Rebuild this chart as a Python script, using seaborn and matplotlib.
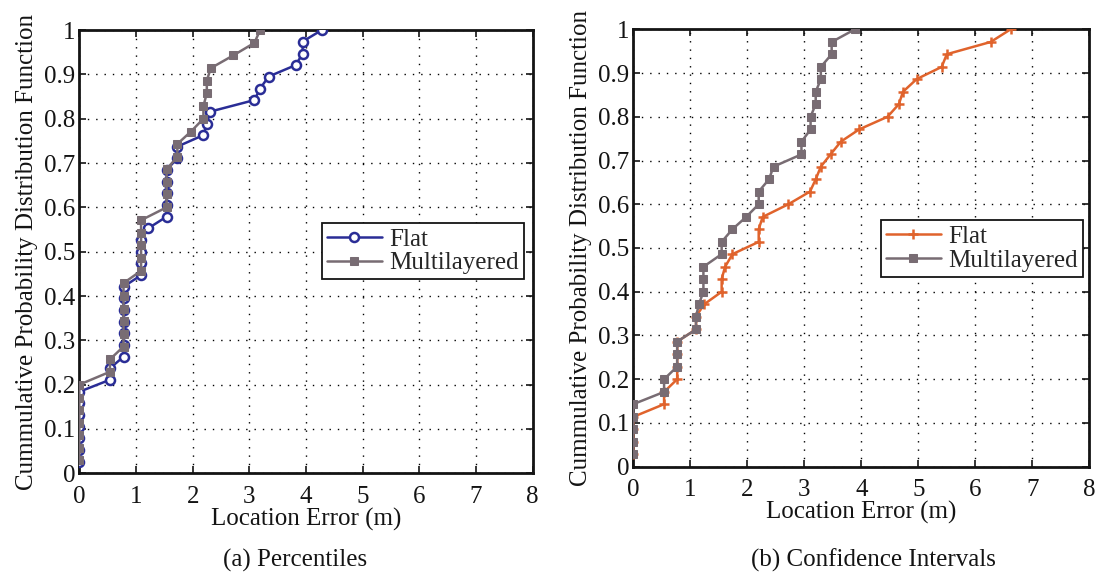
import matplotlib
matplotlib.use("Agg")
import matplotlib.pyplot as plt
import seaborn as sns
import pandas as pd

# ---------------- data ----------------
# (a) Percentiles
pct_flat_x = [0, 0, 0, 0, 0, 0, 0, 0.54, 0.54, 0.78, 0.78, 0.78, 0.78, 0.78, 0.78, 0.78,
              1.09, 1.09, 1.09, 1.09, 1.22, 1.54, 1.54, 1.54, 1.54, 1.54, 1.73, 1.73,
              2.19, 2.25, 2.31, 3.09, 3.19, 3.34, 3.82, 3.94, 3.94, 4.28]
pct_flat_y = [0.026, 0.053, 0.079, 0.105, 0.132, 0.158, 0.184, 0.211, 0.237, 0.263, 0.289,
              0.316, 0.342, 0.368, 0.395, 0.421, 0.447, 0.474, 0.5, 0.526, 0.553, 0.579,
              0.605, 0.632, 0.658, 0.684, 0.711, 0.737, 0.763, 0.789, 0.816, 0.842, 0.868,
              0.895, 0.921, 0.947, 0.974, 1.0]
pct_multi_x = [0, 0, 0, 0, 0, 0, 0, 0.54, 0.54, 0.78, 0.78, 0.78, 0.78, 0.78, 0.78,
               1.09, 1.09, 1.09, 1.09, 1.09, 1.54, 1.54, 1.54, 1.54, 1.73, 1.73, 1.97,
               2.19, 2.19, 2.25, 2.25, 2.32, 2.72, 3.09, 3.19]
pct_multi_y = [0.029, 0.057, 0.086, 0.114, 0.143, 0.171, 0.2, 0.229, 0.257, 0.286, 0.314,
               0.343, 0.371, 0.4, 0.429, 0.457, 0.486, 0.514, 0.543, 0.571, 0.6, 0.629,
               0.657, 0.686, 0.714, 0.743, 0.771, 0.8, 0.829, 0.857, 0.886, 0.914, 0.943,
               0.971, 1.0]

# (b) Confidence Intervals
ci_flat_x = [0, 0, 0, 0, 0.54, 0.54, 0.77, 0.77, 0.77, 0.77, 1.10, 1.10, 1.24, 1.55, 1.55,
             1.61, 1.74, 2.2, 2.2, 2.27, 2.72, 3.1, 3.2, 3.29, 3.46, 3.64, 3.96, 4.46,
             4.66, 4.73, 4.97, 5.41, 5.50, 6.27, 6.62]
ci_flat_y = [0.029, 0.057, 0.086, 0.114, 0.143, 0.171, 0.2, 0.229, 0.257, 0.286, 0.314,
             0.343, 0.371, 0.4, 0.429, 0.457, 0.486, 0.514, 0.543, 0.571, 0.6, 0.629,
             0.657, 0.686, 0.714, 0.743, 0.771, 0.8, 0.829, 0.857, 0.886, 0.914, 0.943,
             0.971, 1.0]
ci_multi_x = [0, 0, 0, 0, 0, 0.54, 0.54, 0.77, 0.77, 0.77, 1.10, 1.10, 1.15, 1.23, 1.23,
              1.23, 1.55, 1.55, 1.74, 1.98, 2.2, 2.2, 2.38, 2.46, 2.95, 2.95, 3.11, 3.11,
              3.2, 3.2, 3.29, 3.29, 3.48, 3.48, 3.89]
ci_multi_y = [0.029, 0.057, 0.086, 0.114, 0.143, 0.171, 0.2, 0.229, 0.257, 0.286, 0.314,
              0.343, 0.371, 0.4, 0.429, 0.457, 0.486, 0.514, 0.543, 0.571, 0.6, 0.629,
              0.657, 0.686, 0.714, 0.743, 0.771, 0.8, 0.829, 0.857, 0.886, 0.914, 0.943,
              0.971, 1.0]

series_names = ["Flat", "Multilayered"]
x_ticks = [0, 1, 2, 3, 4, 5, 6, 7, 8]
y_ticks = [0, 0.1, 0.2, 0.3, 0.4, 0.5, 0.6, 0.7, 0.8, 0.9, 1.0]
y_tick_labels = ["0", "0.1", "0.2", "0.3", "0.4", "0.5", "0.6", "0.7", "0.8", "0.9", "1"]
x_label = "Location Error (m)"
y_label = "Cummulative Probability Distribution Function"
captions = ["(a) Percentiles", "(b) Confidence Intervals"]

# ---------------- style ----------------
sns.set_theme(style="white")
plt.rcParams["font.family"] = ["Liberation Serif", "DejaVu Serif"]
FS = 18

BLUE = "#2a2d96"
GRAY = "#786c73"
ORANGE = "#e0632c"
INK = "#141414"

fig = plt.figure(figsize=(10.97, 5.74), dpi=100)
axL = fig.add_axes([0.0723, 0.1754, 0.4133, 0.7723])
axR = fig.add_axes([0.5773, 0.1869, 0.4157, 0.7621])


def draw(ax, fx, fy, mx, my, fstyle):
    df_f = pd.DataFrame({"x": fx, "y": fy})
    df_m = pd.DataFrame({"x": mx, "y": my})
    sns.lineplot(data=df_f, x="x", y="y", ax=ax, sort=False, estimator=None,
                 label=series_names[0], zorder=3, **fstyle)
    sns.lineplot(data=df_m, x="x", y="y", ax=ax, sort=False, estimator=None,
                 label=series_names[1], color=GRAY, lw=1.8, marker="s", markersize=5.4,
                 markerfacecolor=GRAY, markeredgecolor=GRAY, zorder=4)
    ax.set_xlim(0, 8)
    ax.set_ylim(0, 1)
    ax.set_xticks(x_ticks)
    ax.set_xticklabels([str(t) for t in x_ticks])
    ax.set_yticks(y_ticks)
    ax.set_yticklabels(y_tick_labels)
    ax.grid(True, color="black", linestyle=(0, (1, 5)), linewidth=1.0)
    ax.set_axisbelow(True)
    for s in ax.spines.values():
        s.set_color(INK)
        s.set_linewidth(2.0)
        s.set_visible(True)
    ax.tick_params(direction="in", top=True, right=True, bottom=True, left=True,
                   length=5, width=1.2, labelsize=FS, pad=3, colors=INK,
                   labelcolor=INK)
    ax.tick_params(axis="x", pad=9)
    ax.set_xlabel(x_label, fontsize=FS, labelpad=0, color=INK)
    ax.set_ylabel(y_label, fontsize=FS, labelpad=4, color=INK)
    ax.set_facecolor("white")


draw(axL, pct_flat_x, pct_flat_y, pct_multi_x, pct_multi_y,
     dict(color=BLUE, lw=1.8, marker="o", markersize=6.5, markerfacecolor="white",
          markeredgecolor=BLUE, markeredgewidth=1.8))
draw(axR, ci_flat_x, ci_flat_y, ci_multi_x, ci_multi_y,
     dict(color=ORANGE, lw=1.8, marker="+", markersize=7.5, markeredgecolor=ORANGE,
          markeredgewidth=1.8))

for ax, anchor in [(axL, (0.981, 0.501)), (axR, (0.986, 0.499))]:
    leg = ax.legend(loc="center right", bbox_to_anchor=anchor, fontsize=FS,
                    frameon=True, fancybox=False, edgecolor=INK,
                    handlelength=2.2, handletextpad=0.3, borderpad=0.2,
                    labelspacing=0.05, borderaxespad=0.0)
    leg.get_frame().set_linewidth(1.3)
    leg.get_frame().set_facecolor("white")
    leg.get_frame().set_alpha(1)

fig.text(295 / 1097, 1 - 560 / 574, captions[0], ha="center", va="center",
         fontsize=FS, color=INK)
fig.text(873 / 1097, 1 - 560 / 574, captions[1], ha="center", va="center",
         fontsize=FS, color=INK)

fig.savefig("out.png", dpi=100, facecolor="white")
